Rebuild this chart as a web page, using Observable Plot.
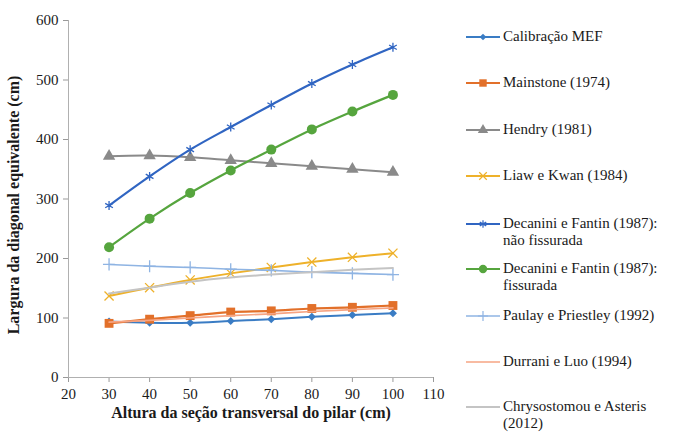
<!DOCTYPE html>
<html>
<head>
<meta charset="utf-8">
<script src="https://cdn.jsdelivr.net/npm/d3@7"></script>
<script src="https://cdn.jsdelivr.net/npm/@observablehq/plot@0.6"></script>
<style>
  body { margin: 0; background: #fff; }
  #wrap { position: relative; width: 675px; height: 432px; font-family: "Liberation Serif", "Times New Roman", Times, "DejaVu Serif", serif; }
  #legend { position: absolute; left: 0; top: 0; width: 675px; height: 432px; pointer-events: none; }
  .item { position: absolute; left: 465px; display: flex; align-items: flex-start; font-size: 15px; color: #1a1a1a; line-height: 17px; }
  .item svg { flex: none; margin-top: 0px; }
  .item span { margin-left: 2px; }
</style>
</head>
<body>
<div id="wrap"></div>
<script>
const xValues = [30, 40, 50, 60, 70, 80, 90, 100];
const calibracao = [94, 92, 92, 95, 98, 102, 105, 108];
const mainstone = [91, 98, 104, 110, 112, 116, 118, 121];
const hendry = [372, 373, 370, 365, 360, 355, 350, 345];
const liaw = [137, 151, 164, 175, 185, 194, 202, 209];
const decaniniNF = [289, 338, 383, 421, 458, 494, 526, 555];
const decaniniF = [219, 267, 310, 348, 383, 417, 447, 475];
const paulay = [190, 187, 185, 182, 180, 177, 175, 173];
const durrani = [93, 96, 100, 104, 107, 111, 114, 117];
const chrysostomou = [141, 151, 161, 168, 173, 177, 181, 184];

const seriesNames = [
  "Calibração MEF",
  "Mainstone (1974)",
  "Hendry (1981)",
  "Liaw e Kwan (1984)",
  "Decanini e Fantin (1987):\nnão fissurada",
  "Decanini e Fantin (1987):\nfissurada",
  "Paulay e Priestley (1992)",
  "Durrani e Luo (1994)",
  "Chrysostomou e Asteris\n(2012)"
];
const seriesValues = [calibracao, mainstone, hendry, liaw, decaniniNF, decaniniF, paulay, durrani, chrysostomou];
const xTicks = [20, 30, 40, 50, 60, 70, 80, 90, 100, 110];
const yTicks = [0, 100, 200, 300, 400, 500, 600];

const FONT = '"Liberation Serif", "Times New Roman", Times, "DejaVu Serif", serif';

const styles = [
  {color: "#3a7cc4", symbol: "diamond2", r: 3.6, filled: true, w: 2},
  {color: "#e2702a", symbol: "square", r: 5, filled: true, w: 2.2},
  {color: "#8a8a8a", symbol: "triangle", r: 4.6, filled: true, w: 2},
  {color: "#eeb12a", symbol: "times", r: 4.2, filled: false, w: 2},
  {color: "#3065c2", symbol: "asterisk", r: 4.2, filled: false, w: 2.2},
  {color: "#56a53e", symbol: "circle", r: 5, filled: true, w: 2.2},
  {color: "#8fb4e3", symbol: "plus", r: 4, filled: false, w: 1.6},
  {color: "#f6a483", symbol: null, r: 0, filled: false, w: 1.6},
  {color: "#c4c4c4", symbol: null, r: 0, filled: false, w: 2}
];

const marks = [
  Plot.axisX({ticks: xTicks, tickSize: 5, tickPadding: 6, fontSize: 15, stroke: "#999",
    label: "Altura da seção transversal do pilar (cm)", labelAnchor: "center", labelArrow: "none", labelOffset: 40}),
  Plot.axisY({ticks: yTicks, tickSize: 5, tickPadding: 5, fontSize: 15, stroke: "#999",
    label: null}),
  Plot.ruleX([20], {stroke: "#b0b0b0"}),
  Plot.ruleY([0], {stroke: "#b0b0b0"})
];

seriesValues.forEach((vals, i) => {
  const s = styles[i];
  const data = xValues.map((x, j) => ({x, y: vals[j]}));
  marks.push(Plot.line(data, {x: "x", y: "y", stroke: s.color, strokeWidth: s.w, curve: "catmull-rom"}));
  if (s.symbol) {
    marks.push(Plot.dot(data, s.filled
      ? {x: "x", y: "y", symbol: () => s.symbol, r: s.r, fill: s.color, stroke: "none"}
      : {x: "x", y: "y", symbol: () => s.symbol, r: s.r, stroke: s.color, strokeWidth: 1.3, fill: "none"}));
  }
});

const chart = Plot.plot({
  width: 675,
  height: 432,
  marginLeft: 68,
  marginRight: 242,
  marginTop: 20,
  marginBottom: 55,
  style: {fontFamily: FONT, fontSize: "15px", color: "#1a1a1a", background: "#fff"},
  x: {domain: [20, 110]},
  y: {domain: [0, 600]},
  symbol: {type: "identity"},
  marks
});

const wrap = document.getElementById("wrap");
wrap.appendChild(chart);

chart.querySelectorAll("text").forEach(t => {
  t.style.fontFamily = FONT;
  if (t.textContent.startsWith("Altura")) { t.setAttribute("font-weight", "bold"); t.setAttribute("font-size", "16"); }
});

const ns = "http://www.w3.org/2000/svg";
const yl = document.createElementNS(ns, "text");
yl.setAttribute("transform", "translate(19,205) rotate(-90)");
yl.setAttribute("text-anchor", "middle");
yl.setAttribute("font-weight", "bold");
yl.setAttribute("font-size", "16");
yl.setAttribute("fill", "#1a1a1a");
yl.style.fontFamily = FONT;
yl.textContent = "Largura da diagonal equivalente (cm)";
chart.appendChild(yl);

const legend = document.createElement("div");
legend.id = "legend";
const tops = [37, 83, 130, 176, 224, 269, 316, 362, 407];
const symMap = {diamond2: d3.symbolDiamond2, square: d3.symbolSquare, triangle: d3.symbolTriangle,
  times: d3.symbolTimes, asterisk: d3.symbolAsterisk, circle: d3.symbolCircle, plus: d3.symbolPlus};
seriesNames.forEach((name, i) => {
  const s = styles[i];
  const item = document.createElement("div");
  item.className = "item";
  item.style.top = (tops[i] - 9) + "px";
  let svg = `<svg width="36" height="18"><line x1="1" x2="35" y1="9" y2="9" stroke="${s.color}" stroke-width="${s.w}"/>`;
  if (s.symbol) {
    const p = d3.symbol(symMap[s.symbol], Math.PI * s.r * s.r * 0.7)();
    svg += s.filled
      ? `<path transform="translate(18,9)" d="${p}" fill="${s.color}"/>`
      : `<path transform="translate(18,9)" d="${p}" fill="none" stroke="${s.color}" stroke-width="1.2"/>`;
  }
  svg += `</svg>`;
  item.innerHTML = svg + `<span>${name.replace("\n", "<br>")}</span>`;
  legend.appendChild(item);
});
wrap.appendChild(legend);
</script>
</body>
</html>
